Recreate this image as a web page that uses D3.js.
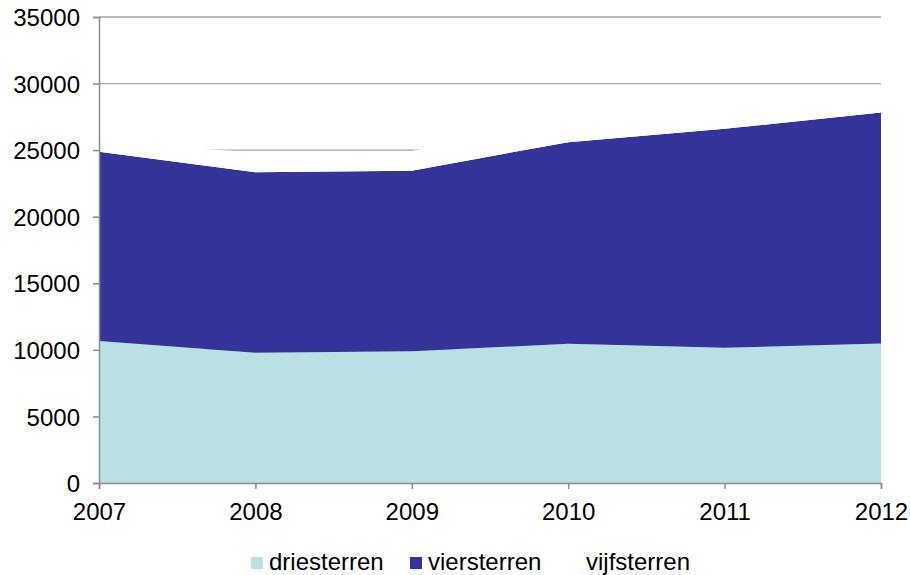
<!DOCTYPE html>
<html>
<head>
<meta charset="utf-8">
<script src="https://cdn.jsdelivr.net/npm/d3@7"></script>
<style>
  body { margin: 0; background: #fff; }
  svg { display: block; font-family: Arial, "Liberation Sans", sans-serif; }
</style>
</head>
<body>
<svg id="chart" width="910" height="575"></svg>
<script>
var years = ["2007", "2008", "2009", "2010", "2011", "2012"];
var driesterren = [10670, 9790, 9900, 10450, 10150, 10470];
var viersterren = [14200, 13550, 13560, 15150, 16450, 17350];
var vijfsterren = [700, 1500, 1480, 1700, 1750, 1800];
var yTicks = [0, 5000, 10000, 15000, 20000, 25000, 30000, 35000];

var seriesNames = ["driesterren", "viersterren", "vijfsterren"];
var colors = { driesterren: "#b9e0e3", viersterren: "#333399", vijfsterren: "#ffffff" };

var rows = years.map(function (y, i) {
    return { year: y, driesterren: driesterren[i], viersterren: viersterren[i], vijfsterren: vijfsterren[i] };
});

var svg = d3.select("#chart"),
    plotLeft = 99, plotRight = 881, plotTop = 17, plotBottom = 483;

var x = d3.scalePoint().domain(years).range([plotLeft, plotRight]);
var y = d3.scaleLinear().domain([0, 35000]).range([plotBottom, plotTop]);

// gridlines behind the areas
svg.append("g")
    .selectAll("line")
    .data(yTicks.slice(1))
    .enter()
    .append("line")
    .attr("x1", plotLeft).attr("x2", plotRight)
    .attr("y1", function (d) { return y(d); })
    .attr("y2", function (d) { return y(d); })
    .attr("stroke", "#a6a6a6")
    .attr("stroke-width", 1.3);

var stacked = d3.stack().keys(seriesNames)(rows);

var area = d3.area()
    .x(function (d) { return x(d.data.year); })
    .y0(function (d) { return y(d[0]); })
    .y1(function (d) { return y(d[1]); });

svg.append("g")
    .selectAll("path")
    .data(stacked)
    .enter()
    .append("path")
    .attr("d", area)
    .attr("fill", function (s) { return colors[s.key]; });

// axes
var yAxis = svg.append("g")
    .attr("transform", "translate(" + plotLeft + ",0)")
    .call(d3.axisLeft(y).tickValues(yTicks).tickFormat(d3.format("d")).tickSize(6).tickPadding(13));

var xAxis = svg.append("g")
    .attr("transform", "translate(0," + plotBottom + ")")
    .call(d3.axisBottom(x).tickSize(6).tickPadding(8));

[yAxis, xAxis].forEach(function (ax) {
    ax.select(".domain").attr("stroke", "#8c8c8c").attr("stroke-width", 1.5);
    ax.selectAll(".tick line").attr("stroke", "#8c8c8c").attr("stroke-width", 1.5);
    ax.selectAll("text")
        .attr("fill", "#000")
        .style("font-size", "24px")
        .style("font-family", "Arial, 'Liberation Sans', sans-serif");
});
yAxis.selectAll("text").attr("dy", "0.36em");
xAxis.selectAll("text").attr("dy", "0.96em");

// legend
var legendX = [251, 410, 568];
var legend = svg.append("g")
    .selectAll("g")
    .data(seriesNames)
    .enter()
    .append("g")
    .attr("transform", function (d, i) { return "translate(" + legendX[i] + ",557)"; });

legend.append("rect")
    .attr("width", 12).attr("height", 12)
    .attr("fill", function (d) { return colors[d]; });

legend.append("text")
    .attr("x", 18).attr("y", 13)
    .style("font-size", "24px")
    .attr("fill", "#000")
    .text(function (d) { return d; });
</script>
</body>
</html>
